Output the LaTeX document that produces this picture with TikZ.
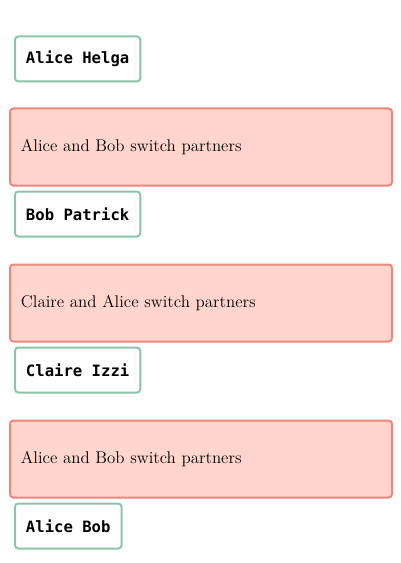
\documentclass[tikz,border=0pt]{standalone}
\usepackage{fontspec}
\newfontfamily\codefont{DejaVu Sans Mono}
\usepackage{tikz}
\usetikzlibrary{positioning}
\definecolor{personline}{RGB}{140,196,170}
\definecolor{swapline}{RGB}{233,135,123}
\definecolor{swapfill}{RGB}{255,213,206}

\begin{document}
\begin{tikzpicture}[x = 0.75pt, y = -0.75pt, node distance = 3pt]
\tikzset{
  pair/.style = {draw = personline, fill = white, line width = 1.5pt, rounded corners = 2.5pt, rectangle,
    minimum height = 33.75pt, inner xsep = 8.25pt, font = \codefont\bfseries\fontsize{11.7}{14}\selectfont, anchor = north west},
  swap/.style = {draw = swapline, fill = swapfill, line width = 1.5pt, rounded corners = 2.5pt, rectangle,
    minimum height = 57.75pt, text width = 270pt, inner xsep = 8.25pt, align = left,
    font = \fontsize{12.7}{15}\selectfont, anchor = north west},
}
\useasboundingbox (0,0) rectangle (400,563);
\node [pair] (pairOne) at (14,35.5) {Alice Helga};
\node [swap] (swapOne) at (9,107.5) {Alice and Bob switch partners};
\node [pair, below = of swapOne.south west, xshift = 3.75pt, anchor = north west] (pairTwo) {Bob Patrick};
\node [swap] (swapTwo) at (9,263.5) {Claire and Alice switch partners};
\node [pair, below = of swapTwo.south west, xshift = 3.75pt, anchor = north west] (pairThree) {Claire Izzi};
\node [swap] (swapThree) at (9,419.5) {Alice and Bob switch partners};
\node [pair, below = of swapThree.south west, xshift = 3.75pt, anchor = north west] (pairFour) {Alice Bob};
\end{tikzpicture}
\end{document}
